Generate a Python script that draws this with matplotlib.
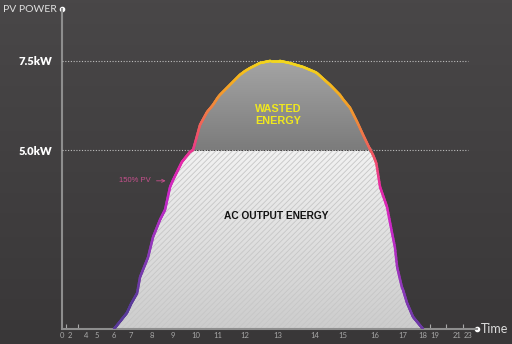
import numpy as np
import matplotlib
matplotlib.use("Agg")
import matplotlib.pyplot as plt
from matplotlib.collections import LineCollection
from matplotlib.colors import LinearSegmentedColormap

plt.rcParams['font.family'] = ['Lato', 'DejaVu Sans']
plt.rcParams['hatch.linewidth'] = 0.6

# hour of day -> curve power (kW)
hours = [6.0, 6.76, 7.29, 7.43, 7.81, 8.05, 8.38, 8.62, 8.86, 9.0, 9.39, 9.74,
         9.87, 10.18, 10.5, 10.77, 11.07, 11.44, 11.81, 12.15, 12.45, 12.76,
         13.05, 13.32, 13.68, 14.07, 14.54, 14.89, 15.22, 15.44, 15.63, 15.78,
         15.94, 16.05, 16.18, 16.43, 16.61, 16.71, 16.79, 16.96, 17.2, 17.5, 18.0]
pv_kw = [0.0, 0.45, 1.0, 1.45, 2.0, 2.57, 3.05, 3.33, 3.97, 4.16, 4.67, 4.95,
         5.0, 5.7, 6.06, 6.26, 6.54, 6.82, 7.1, 7.29, 7.43, 7.49,
         7.49, 7.43, 7.32, 7.15, 6.82, 6.54, 6.18, 5.79, 5.42, 5.14,
         4.86, 4.62, 3.97, 3.41, 2.68, 2.29, 1.73, 1.17, 0.73, 0.34, 0.0]
inverter_kw = 5.0

tick_hours = [0, 2, 4, 5, 6, 7, 8, 9, 10, 11, 12, 13, 14, 15, 16, 17, 18, 19, 21, 23]
minor_hours = [1, 2, 3, 4, 5, 18.6, 19, 20, 21, 22, 23]
y_ticks = [5.0, 7.5]
y_labels = ['5.0kW', '7.5kW']

# the time axis is stretched around midday: hour -> pixel column
scale_hours = tick_hours + [24]
scale_px = [62, 70, 86, 97, 114, 131, 152, 173, 196, 218, 245, 278, 315,
            343, 375, 403, 423, 435, 457, 468, 477]


def fwd(h):
    return np.interp(h, scale_hours, scale_px)


def inv(p):
    return np.interp(p, scale_px, scale_hours)


fig = plt.figure(figsize=(5.12, 3.44), dpi=100)

# background gradient
bg = fig.add_axes([0, 0, 1, 1], zorder=-1)
bg.imshow(np.linspace(0, 1, 100).reshape(-1, 1),
          cmap=LinearSegmentedColormap.from_list('bg', ['#494748', '#393738']),
          aspect='auto', extent=(0, 1, 0, 1))
bg.axis('off')

ax = fig.add_axes([62 / 512, 15 / 344, 415 / 512, 320 / 344])
ax.set_facecolor('none')
ax.set_xscale('function', functions=(fwd, inv))
ax.set_xlim(0, 24)
ax.set_ylim(0, 8.94)

x = np.array(hours)
y = np.array(pv_kw)
low = np.minimum(y, inverter_kw)

# AC output area: light gradient with faint diagonal hatch
ac = ax.fill_between(x, 0, low, color='none', lw=0)
img = ax.imshow(np.linspace(1, 0, 100).reshape(-1, 1),
                cmap=LinearSegmentedColormap.from_list('ac', ['#cdcdcd', '#f2f2f2']),
                aspect='auto', extent=(0, 24, 0, inverter_kw), zorder=1)
img.set_clip_path(ac.get_paths()[0], transform=ax.transData)
ax.fill_between(x, 0, low, facecolor='none', edgecolor='#c6c6c6',
                hatch='//////', lw=0, zorder=2)

# wasted energy area: grey gradient
wasted = ax.fill_between(x, inverter_kw, np.maximum(y, inverter_kw), color='none', lw=0)
img2 = ax.imshow(np.linspace(1, 0, 100).reshape(-1, 1),
                 cmap=LinearSegmentedColormap.from_list('w', ['#7c7c7c', '#a6a6a6']),
                 aspect='auto', extent=(0, 24, inverter_kw, 7.6), zorder=1)
img2.set_clip_path(wasted.get_paths()[0], transform=ax.transData)

# reference lines
for v in y_ticks:
    ax.plot([0, 23], [v, v], ls=(0, (1, 1.5)), color='#bdbdbd', lw=0.8, zorder=3)

# gradient-coloured PV curve
xf = np.linspace(hours[0], hours[-1], 800)
yf = np.interp(xf, x, y)
pts = np.column_stack([xf, yf]).reshape(-1, 1, 2)
segs = np.concatenate([pts[:-1], pts[1:]], axis=1)
curve_cmap = LinearSegmentedColormap.from_list('pv', [
    (0.0, '#5a3a9a'), (0.2, '#8a3ab8'), (0.42, '#c828c8'), (0.56, '#e62aa8'),
    (0.66, '#f0506a'), (0.79, '#f08a3a'), (0.89, '#f5b020'), (1.0, '#f2e41c')])
shade = (yf + 0.35 * (xf - 13) / 3) / 7.7
lc = LineCollection(segs, colors=curve_cmap(np.clip(shade, 0, 1)), lw=1.8, zorder=4,
                    capstyle='round')
ax.add_collection(lc)

# axes styling
for s in ['top', 'right']:
    ax.spines[s].set_visible(False)
for s in ['left', 'bottom']:
    ax.spines[s].set_color('#8e8e8e')
    ax.spines[s].set_linewidth(1.5)
ax.plot([0], [1], 'o', ms=3, color='white', transform=ax.transAxes, clip_on=False)
ax.plot([1], [0], 'o', ms=3, color='white', transform=ax.transAxes, clip_on=False)

ax.set_xticks(tick_hours)
ax.set_xticklabels([str(h) for h in tick_hours])
ax.set_xticks(minor_hours, minor=True)
ax.tick_params(axis='x', which='major', length=0, pad=2, labelsize=5.5,
               labelcolor='#a8a8a8')
ax.tick_params(axis='x', which='minor', direction='in', length=3.5, width=0.8,
               color='#a8a8a8')
ax.set_yticks(y_ticks)
ax.set_yticklabels(y_labels, fontweight='heavy')
ax.tick_params(axis='y', length=0, pad=7, labelsize=8, labelcolor='white')

fig.text(3 / 512, 1 - 10 / 344, 'PV POWER', ha='left', va='center',
         fontsize=7.5, color='#e0e0e0')
fig.text(481 / 512, 15 / 344, 'Time', ha='left', va='center',
         fontsize=9, color='#dcdcdc')

ax.text(13.0, 5.98, 'WASTED\nENERGY', ha='center', va='center', fontsize=7.8,
        fontweight='bold', color='#f0e81e', linespacing=1.15, zorder=5,
        family=['Liberation Sans', 'DejaVu Sans'])
ax.text(12.95, 3.16, 'AC OUTPUT ENERGY', ha='center', va='center', fontsize=7.3,
        fontweight='bold', color='#111111', zorder=5,
        family=['Liberation Sans', 'DejaVu Sans'])
ax.annotate('150% PV', xy=(8.78, 4.14), xytext=(7.95, 4.14), ha='right',
            va='center', fontsize=5.5, color='#c8508e',
            family=['Liberation Sans', 'DejaVu Sans'],
            arrowprops=dict(arrowstyle='->', color='#c8508e', lw=0.6))

fig.savefig('out.png', dpi=100)
